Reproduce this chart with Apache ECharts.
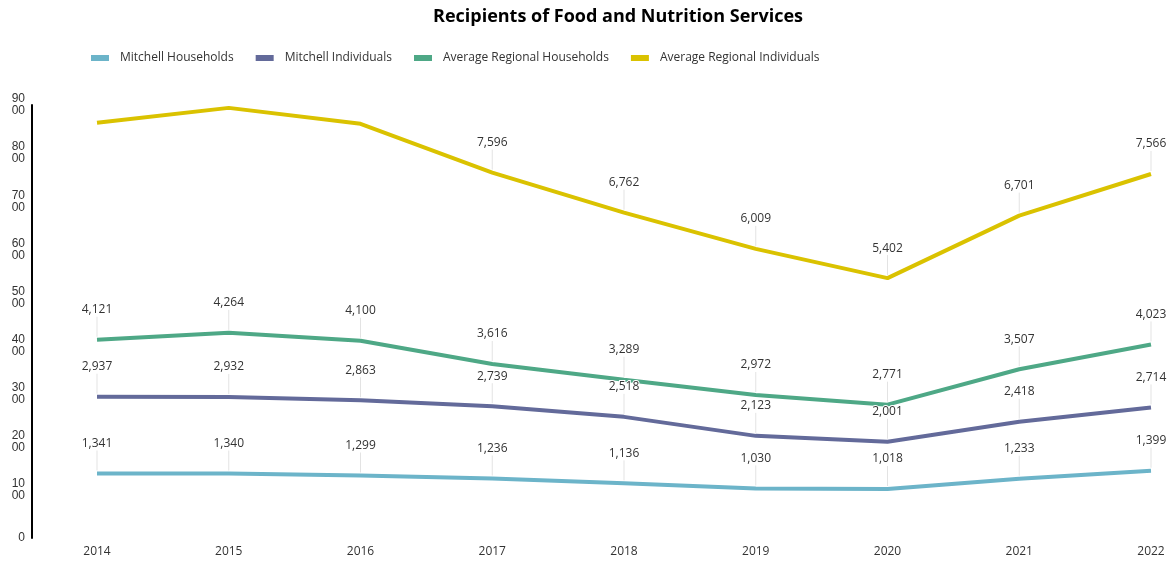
<!DOCTYPE html>
<html>
<head>
<meta charset="utf-8">
<script src="https://cdn.jsdelivr.net/npm/echarts@6/dist/echarts.min.js"></script>
<style>html,body{margin:0;padding:0;background:#fff;}#c{width:1173px;height:562px;}</style>
</head>
<body>
<div id="c"></div>
<script>
const years = ['2014','2015','2016','2017','2018','2019','2020','2021','2022'];
const mitchellHouseholds = [1341,1340,1299,1236,1136,1030,1018,1233,1399];
const mitchellIndividuals = [2937,2932,2863,2739,2518,2123,2001,2418,2714];
const regionalHouseholds = [4121,4264,4100,3616,3289,2972,2771,3507,4023];
const regionalIndividuals = [8630,8940,8610,7596,6762,6009,5402,6701,7566];
const seriesNames = ['Mitchell Households','Mitchell Individuals','Average Regional Households','Average Regional Individuals'];
const colors = ['#6cb4c9','#636a9a','#4ea886','#dac200'];
const allData = [mitchellHouseholds, mitchellIndividuals, regionalHouseholds, regionalIndividuals];

const chart = echarts.init(document.getElementById('c'));
const FONT = '"Open Sans", sans-serif';

const lineSeries = allData.map((d, k) => ({
  name: seriesNames[k], type: 'line', data: d, symbol: 'none',
  lineStyle: {width: 4, color: colors[k]}, itemStyle: {color: colors[k]}, z: 3
}));

const labelSeries = allData.map((d, k) => ({
  name: seriesNames[k] + ' labels', type: 'custom', z: 4,
  data: d.map((v, i) => [i, v]),
  renderItem: function (params, api) {
    const p = api.coord([api.value(0), api.value(1)]);
    const cs = params.coordSys;
    if (p[1] - 30 < cs.y) return null;
    return {
      type: 'group', children: [
        {type: 'line', z2: 1, shape: {x1: p[0], y1: p[1] - 3, x2: p[0], y2: p[1] - 23},
         style: {stroke: '#e3e3e3', lineWidth: 1}},
        {type: 'text', z2: 5, x: p[0], y: p[1] - 30,
         style: {text: api.value(1).toLocaleString('en-US'), fill: '#333', font: '12px ' + FONT,
                 align: 'center', verticalAlign: 'middle', stroke: '#fff', lineWidth: 2}}
      ]
    };
  }
}));

chart.setOption({
  animation: false,
  textStyle: {fontFamily: FONT},
  title: {text: 'Recipients of Food and Nutrition Services', left: 433, top: 8, padding: 0,
    textStyle: {fontSize: 18, fontWeight: 'bold', color: '#000', fontFamily: FONT}},
  legend: {data: seriesNames, left: 91, top: 52, padding: 0, icon: 'rect', itemWidth: 18, itemHeight: 6,
    itemGap: 22, textStyle: {fontSize: 12, color: '#333', fontFamily: FONT, padding: [0,0,0,6]}},
  grid: {left: 97, right: 22, top: 105, bottom: 24, containLabel: false},
  xAxis: {type: 'category', data: years, boundaryGap: false,
    axisLine: {show: false}, axisTick: {show: false},
    axisLabel: {color: '#333', fontSize: 12, margin: 8, fontFamily: FONT}},
  yAxis: {type: 'value', min: 0, max: 9000, interval: 1000, offset: 65,
    splitLine: {show: false},
    axisLine: {show: true, lineStyle: {color: '#000', width: 2}}, axisTick: {show: false},
    axisLabel: {color: '#333', fontSize: 12, margin: 7, lineHeight: 12, fontFamily: '"Liberation Sans", Arial, sans-serif',
      formatter: v => v === 0 ? '0' : String(v).slice(0,2) + '\n' + String(v).slice(2)}},
  series: lineSeries.concat(labelSeries)
});
</script>
</body>
</html>
